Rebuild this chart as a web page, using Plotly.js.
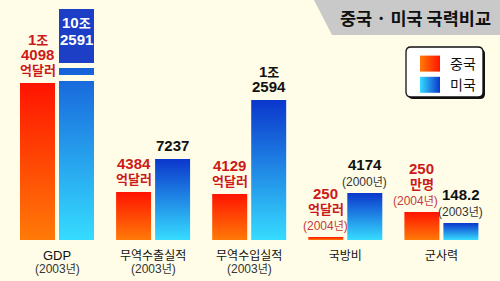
<!DOCTYPE html>
<html>
<head>
<meta charset="utf-8">
<script src="https://cdn.plot.ly/plotly-3.0.1.min.js"></script>
<style>
html,body{margin:0;padding:0;background:#fffde8;}
#chart{width:500px;height:281px;}
</style>
</head>
<body>
<div id="chart"></div>
<script>
// ---- data (bar lengths are the picture's visual lengths; the source is not to scale) ----
const categories = ['GDP', '무역수출실적', '무역수입실적', '국방비', '군사력'];
const categoryYears = ['(2003년)', '(2003년)', '(2003년)', '', ''];
const seriesNames = ['중국', '미국'];
const chinaHeights = [157, 48, 46, 3, 28];
const usHeights = [231, 81, 140, 47, 17];
const chinaValueLabels = [['1조', '4098', '억달러'], ['4384', '억달러'], ['4129', '억달러'], ['250', '억달러', '(2004년)'], ['250', '만명', '(2004년)']];
const usValueLabels = [['10조', '2591'], ['7237'], ['1조', '2594'], ['4174', '(2000년)'], ['148.2', '(2003년)']];
const usLabelInside = [true, false, false, false, false];
const usGdpBreak = [159, 165, 172, 177]; // gap, band, gap boundaries in the broken GDP bar
const chartTitle = '중국 · 미국 국력비교';

// ---- layout constants ----
const W = 500, H = 281, B = 41, PH = H - B;
const pitch = 96.1, c0 = 57;
const barW = 35 / pitch, chinaOff = -37 / pitch, usOff = 2 / pitch;
const BG = '#fffde8';
const LAT = "'Liberation Sans','Noto Sans CJK KR',sans-serif";
const KR = "'Noto Sans CJK KR',sans-serif";
const yearNudge = {'cn4': -6}; // small horizontal nudge of one crowded year label

const px = (x, y) => `${(x / W).toFixed(4)},${((PH - y) / PH).toFixed(4)}`;
const hangul = (s, size) => s.replace(/([\uAC00-\uD7A3]+)/g, `<span style="font-family:'Noto Sans CJK KR';font-size:${size}px">$1</span>`);

const traces = [
  {type: 'bar', name: seriesNames[0], x: categories, y: chinaHeights, offset: chinaOff, width: barW,
   marker: {color: '#ff4000', line: {width: 0}}, hoverinfo: 'skip'},
  {type: 'bar', name: seriesNames[1], x: categories, y: usHeights, offset: usOff, width: barW,
   marker: {color: '#1a70e0', line: {width: 0}}, hoverinfo: 'skip'},
  {type: 'bar', x: [categories[0], categories[0]], base: [usGdpBreak[0], usGdpBreak[2]],
   y: [usGdpBreak[1] - usGdpBreak[0], usGdpBreak[3] - usGdpBreak[2]], offset: usOff, width: barW,
   marker: {color: BG, line: {width: 0}}, showlegend: false, hoverinfo: 'skip'},
  {type: 'bar', x: [categories[0]], base: [usGdpBreak[3]], y: [usHeights[0] - usGdpBreak[3]],
   offset: usOff, width: barW, marker: {color: '#1d3fc5', line: {width: 0}}, showlegend: false, hoverinfo: 'skip'}
];

const annotations = [];
function addLabels(key, labels, heights, off, boldColor, yearColor, insideFlags) {
  labels.forEach((lines, i) => {
    const xc = i + off + barW / 2;
    const inside = insideFlags && insideFlags[i];
    const shifts = [];
    if (inside) {
      lines.forEach((l, k) => shifts[k] = -13 - 17 * k);
    } else {
      let s = 0;
      for (let k = lines.length - 1; k >= 0; k--) {
        const isYear = lines[k].startsWith('(');
        if (k === lines.length - 1) s = isYear ? 12 : 14;
        else s += lines[k + 1].startsWith('(') ? 17 : 15;
        shifts[k] = s;
      }
    }
    lines.forEach((l, k) => {
      const isYear = l.startsWith('(');
      annotations.push({
        x: xc, y: heights[i], xref: 'x', yref: 'y', yanchor: 'middle', xanchor: 'center',
        yshift: shifts[k], xshift: isYear ? (yearNudge[key + i] || 0) : 0, showarrow: false,
        text: hangul(l, isYear ? 11 : 13),
        font: {family: LAT, size: isYear ? 12 : 15, weight: isYear ? 'normal' : 'bold',
               color: inside ? '#ffffff' : (isYear ? yearColor : boldColor)}
      });
    });
  });
}
addLabels('cn', chinaValueLabels, chinaHeights, chinaOff, '#cc1a1a', '#c23a3a', null);
addLabels('us', usValueLabels, usHeights, usOff, '#111111', '#333333', usLabelInside);

// year sub-labels under the category names
categories.forEach((c, i) => {
  if (!categoryYears[i]) return;
  annotations.push({x: c, y: -28 / PH, xref: 'x', yref: 'paper', yanchor: 'middle', xanchor: 'center',
    showarrow: false, text: hangul(categoryYears[i], 11), font: {family: LAT, size: 12, color: '#333'}});
});

function roundRect(x0, y0, x1, y1, r) {
  return `M${px(x0 + r, y0)} L${px(x1 - r, y0)} Q${px(x1, y0)} ${px(x1, y0 + r)} L${px(x1, y1 - r)} Q${px(x1, y1)} ${px(x1 - r, y1)} L${px(x0 + r, y1)} Q${px(x0, y1)} ${px(x0, y1 - r)} L${px(x0, y0 + r)} Q${px(x0, y0)} ${px(x0 + r, y0)} Z`;
}

const shapes = [
  {type: 'path', xref: 'paper', yref: 'paper', layer: 'below',
   path: `M${px(314, 0)} L${px(500, 0)} L${px(500, 35)} L${px(332, 35)} Z`,
   fillcolor: '#c9c9c9', line: {width: 0}},
  {type: 'path', xref: 'paper', yref: 'paper', path: roundRect(408, 49, 485, 99, 5),
   fillcolor: '#111111', line: {width: 0}},
  {type: 'path', xref: 'paper', yref: 'paper', path: roundRect(406, 47, 483, 97, 5),
   fillcolor: '#ffffff', line: {width: 1.3, color: '#111111'}}
];

const layout = {
  width: W, height: H,
  margin: {l: 0, r: 0, t: 0, b: B, pad: 0},
  paper_bgcolor: BG, plot_bgcolor: BG,
  barmode: 'overlay',
  showlegend: true,
  legend: {x: 0.82, y: (PH - 48) / PH, xanchor: 'left', yanchor: 'top', bgcolor: 'rgba(0,0,0,0)',
           borderwidth: 0, font: {family: KR, size: 14, color: '#111'}, itemclick: false, itemdoubleclick: false},
  title: {text: chartTitle, x: 491 / W, xanchor: 'right', xref: 'paper', y: 1 - 19 / H, yanchor: 'middle',
          font: {family: KR, size: 17.5, color: '#111', weight: 'bold'}},
  xaxis: {type: 'category', categoryorder: 'array', categoryarray: categories,
          range: [-c0 / pitch, (W - c0) / pitch], tickvals: categories,
          ticktext: categories.map(c => hangul(c, 12)),
          tickfont: {family: LAT, size: 13, color: '#111'}, ticks: '', ticklabelstandoff: 6,
          showline: false, showgrid: false, zeroline: false, fixedrange: true},
  yaxis: {range: [0, PH], visible: false, fixedrange: true},
  shapes: shapes,
  annotations: annotations
};

const gd = document.getElementById('chart');
Plotly.newPlot(gd, traces, layout, {staticPlot: true, displayModeBar: false}).then(() => {
  const NS = 'http://www.w3.org/2000/svg';
  const svg = gd.querySelector('.main-svg');
  let defs = svg.querySelector('defs');
  if (!defs) { defs = document.createElementNS(NS, 'defs'); svg.insertBefore(defs, svg.firstChild); }
  function grad(id, x2, y2, c1, c2) {
    const g = document.createElementNS(NS, 'linearGradient');
    g.setAttribute('id', id); g.setAttribute('x1', '0'); g.setAttribute('y1', '0');
    g.setAttribute('x2', x2); g.setAttribute('y2', y2);
    [[0, c1], [1, c2]].forEach(([o, c]) => {
      const s = document.createElementNS(NS, 'stop');
      s.setAttribute('offset', o); s.setAttribute('stop-color', c); g.appendChild(s);
    });
    defs.appendChild(g);
  }
  grad('gCn', '0', '1', '#ff1400', '#ff7a08');
  grad('gUs', '0', '1', '#0b36cc', '#36dcff');
  grad('gCnL', '1', '0', '#ff7a08', '#ff1400');
  grad('gUsL', '1', '0', '#36dcff', '#0b36cc');
  const barTraces = gd.querySelectorAll('.barlayer .trace');
  barTraces[0].querySelectorAll('path').forEach(p => p.style.fill = 'url(#gCn)');
  barTraces[1].querySelectorAll('path').forEach(p => p.style.fill = 'url(#gUs)');
  const leg = gd.querySelectorAll('.legend .traces');
  leg.forEach((t, i) => {
    t.querySelectorAll('.legendpoints path').forEach(p => {
      p.setAttribute('d', 'M10,8H-10V-8H10Z');
      p.style.fill = i === 0 ? 'url(#gCnL)' : 'url(#gUsL)';
    });
  });
});
</script>
</body>
</html>
